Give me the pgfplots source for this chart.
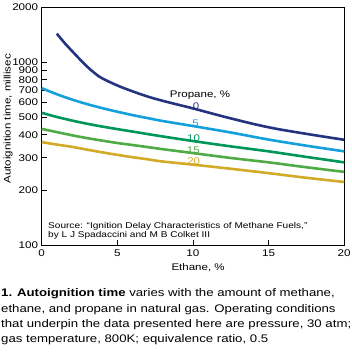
\documentclass[border=0pt]{standalone}
\usepackage{fontspec}
\setmainfont{Liberation Sans}[FakeStretch=1.2]
\usepackage{pgfplots}
\pgfplotsset{compat=1.18}
\definecolor{c0}{RGB}{36,52,128}
\definecolor{c5}{RGB}{20,160,220}
\definecolor{c10}{RGB}{0,150,90}
\definecolor{c15}{RGB}{80,170,70}
\definecolor{c20}{RGB}{210,170,40}
\begin{document}
\begin{tikzpicture}
\useasboundingbox (-41.7pt,-113pt) rectangle (310.3pt,245pt);
\begin{axis}[
  at={(0pt,0pt)}, anchor=south west,
  scale only axis, width=302.5pt, height=238pt,
  xmin=0, xmax=20, ymin=100, ymax=2000,
  ymode=log,
  xtick={0,5,10,15,20},
  ytick={100,200,300,400,500,600,700,800,900,1000,2000},
  yticklabels={100,200,300,400,500,600,700,800,900,1000,2000},
  minor ytick={},
  tick align=inside, tick pos=left,
  major tick length=5pt,
  axis line style={line width=0.8pt},
  tick style={line width=0.8pt,black},
  /pgf/number format/assume math mode=true,
  tick label style={font=\fontsize{9.7}{11}\selectfont},
  xticklabel style={yshift=-1.5pt},
  xlabel={Ethane, \%},
  ylabel={Autoignition time, millisec},
  label style={font=\fontsize{9.6}{11}\selectfont},
  xlabel style={at={(axis description cs:0.517,0)}, anchor=base, yshift=-26pt},
  ylabel style={at={(axis description cs:-0.111,0.53)}, anchor=center},
  clip=false,
]
\addplot[c0, line width=2.6pt, smooth, tension=0.6, no marks] coordinates {(1,1430) (1.5,1275) (2,1150) (2.5,1040) (3,945) (3.5,870) (4,815) (5,745) (6,692) (7,648) (8,614) (9,585) (10,558) (12.5,492) (15,440) (17.5,405) (20,376)};
\addplot[c5, line width=2.6pt, smooth, no marks] coordinates {(0,719) (1,667) (2,624) (3,589) (4,560) (5,535) (6,513) (7,494) (8,476) (10,447) (12.5,412) (15,377) (17.5,349) (20,325)};
\addplot[c10, line width=2.6pt, smooth, no marks] coordinates {(0,528) (1,501) (2,479) (3,460) (4,444) (5,430) (6,417) (7,404) (8,392) (10,370) (12.5,346) (15,325) (17.5,303) (20,283)};
\addplot[c15, line width=2.6pt, smooth, no marks] coordinates {(0,431) (1,414) (2,398) (3,384) (4,372) (5,361) (6,352) (7,343) (8,334) (10,318) (12.5,299) (15,283) (17.5,266) (20,251)};
\addplot[c20, line width=2.6pt, smooth, no marks] coordinates {(0,365) (1,354) (2,344) (3,332) (4,321) (5,311) (6,302) (7,294) (8,286) (10,275) (12.5,261) (15,247) (17.5,233) (20,221)};
\end{axis}
\begin{scope}[every node/.style={font=\fontsize{9.6}{11}\selectfont, inner sep=0pt}]
\node[anchor=center] at (158.3pt,150.3pt) {Propane, \%};
\node[anchor=center, text=c0] at (154.3pt,139.2pt) {0};
\node[anchor=center, text=c5] at (154pt,121.7pt) {5};
\node[anchor=center, text=c10] at (151.8pt,106.5pt) {10};
\node[anchor=center, text=c15] at (151.6pt,95pt) {15};
\node[anchor=center, text=c20] at (152pt,84.2pt) {20};
\end{scope}
\begin{scope}[every node/.style={font=\fontsize{8.4}{9}\selectfont, inner sep=0pt, anchor=base west}]
\node at (6.3pt,16pt) {Source: ``Ignition Delay Characteristics of Methane Fuels,''};
\node at (6.3pt,7.7pt) {by L J Spadaccini and M B Colket III};
\end{scope}
\begin{scope}[every node/.style={font=\fontsize{11}{15}\selectfont, inner sep=0pt, anchor=base west}]
\node at (-40.7pt,-52pt) {\textbf{1. Autoignition time} varies with the amount of methane,};
\node at (-40.7pt,-67pt) {ethane, and propane in natural gas. Operating conditions};
\node at (-40.7pt,-82pt) {that underpin the data presented here are pressure, 30 atm;};
\node at (-40.7pt,-97pt) {gas temperature, 800K; equivalence ratio, 0.5};
\end{scope}
\end{tikzpicture}
\end{document}
